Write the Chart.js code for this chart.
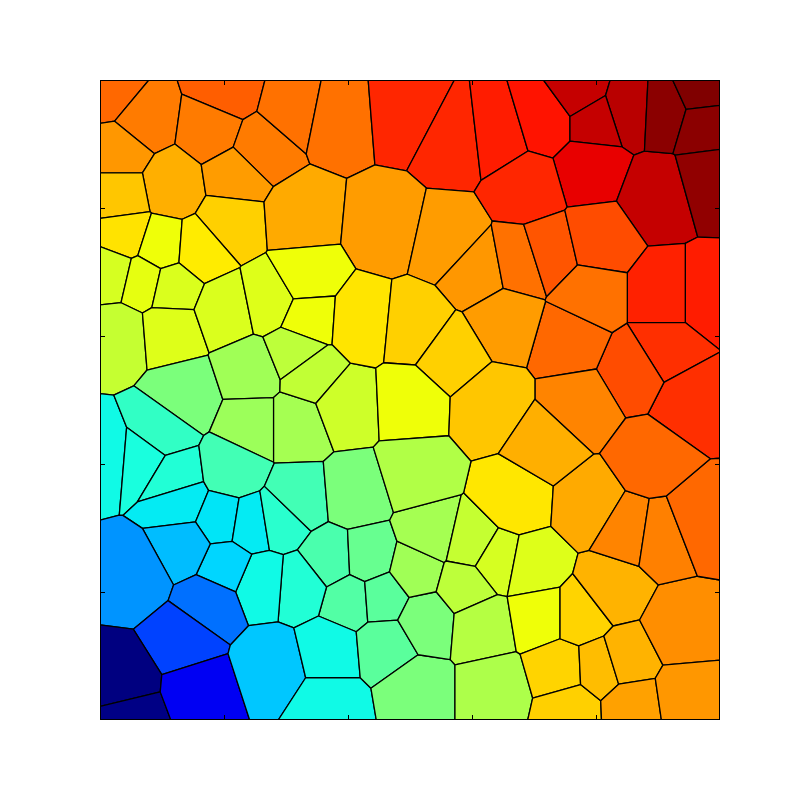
<!DOCTYPE html>
<html>
<head>
<meta charset="utf-8">
<script src="https://cdn.jsdelivr.net/npm/chart.js@4.4.0/dist/chart.umd.min.js"></script>
<style>
  html, body { margin: 0; padding: 0; background: #fff; }
  #wrap { width: 800px; height: 800px; }
</style>
</head>
<body>
<div id="wrap"><canvas id="chart" width="800" height="800"></canvas></div>
<script>
// Voronoi seeds (data units, 0..1) and the colour value of each cell
const seedX = [
    0.019, 0.069, 0.206, 0.181, 0.258, 0.310, 0.382, 0.492, 0.573, 0.640,
    0.718, 0.774, 0.852, 0.798, 0.790, 0.900, 0.911, 0.968, 0.973, 0.984,
    0.032, 0.116, 0.218, 0.032, 0.210, 0.323, 0.460, 0.561, 0.689, 0.610,
    0.677, 0.723, 0.803, 0.977, 0.911, 0.911, 0.952, 0.863, 0.758, 0.774,
    0.653, 0.040, 0.097, 0.161, 0.019, 0.069, 0.116, 0.029, 0.113, 0.202,
    0.274, 0.331, 0.335, 0.137, 0.242, 0.245, 0.315, 0.316, 0.340, 0.395,
    0.419, 0.508, 0.565, 0.500, 0.629, 0.010, 0.097, 0.068, 0.118, 0.129,
    0.213, 0.194, 0.242, 0.290, 0.319, 0.411, 0.371, 0.432, 0.403, 0.455,
    0.323, 0.261, 0.202, 0.137, 0.056, 0.177, 0.137, 0.035, 0.048, 0.161,
    0.277, 0.371, 0.371, 0.460, 0.508, 0.524, 0.508, 0.532, 0.600, 0.637,
    0.589, 0.616, 0.637, 0.669, 0.697, 0.710, 0.742, 0.758, 0.774, 0.823,
    0.806, 0.847, 0.858, 0.935, 0.944, 0.790, 0.852, 0.903, 0.963, 0.887,
    0.718, 0.508, 0.790
];
const seedY = [
    0.981, 0.938, 0.984, 0.922, 0.894, 0.956, 0.941, 0.950, 0.906, 0.914,
    0.938, 0.980, 0.956, 0.938, 0.863, 0.820, 0.953, 0.980, 0.934, 0.844,
    0.891, 0.836, 0.852, 0.819, 0.778, 0.786, 0.773, 0.750, 0.833, 0.703,
    0.716, 0.731, 0.750, 0.664, 0.664, 0.578, 0.500, 0.547, 0.594, 0.492,
    0.625, 0.758, 0.739, 0.734, 0.700, 0.688, 0.677, 0.602, 0.609, 0.641,
    0.656, 0.691, 0.628, 0.508, 0.544, 0.461, 0.461, 0.575, 0.541, 0.492,
    0.622, 0.613, 0.570, 0.497, 0.492, 0.414, 0.450, 0.409, 0.378, 0.341,
    0.391, 0.313, 0.305, 0.313, 0.344, 0.352, 0.250, 0.253, 0.188, 0.192,
    0.211, 0.216, 0.242, 0.273, 0.227, 0.183, 0.125, 0.059, 0.003, 0.047,
    0.086, 0.109, 0.023, 0.117, 0.047, 0.156, 0.234, 0.289, 0.273, 0.250,
    0.211, 0.148, 0.047, 0.344, 0.238, 0.164, 0.078, 0.019, 0.164, 0.203,
    0.081, 0.094, 0.023, 0.141, 0.036, 0.336, 0.297, 0.289, 0.313, 0.406,
    0.430, 0.383, 0.664
];
const cellValue = [
    0.80, 0.78, 0.81, 0.78, 0.78, 0.79, 0.79, 0.87, 0.87, 0.88,
    0.89, 0.94, 0.95, 0.94, 0.91, 0.94, 0.99, 1.00, 0.99, 0.985,
    0.75, 0.725, 0.745, 0.70, 0.69, 0.73, 0.745, 0.745, 0.87, 0.75,
    0.79, 0.82, 0.83, 0.88, 0.875, 0.86, 0.86, 0.83, 0.80, 0.77,
    0.745, 0.67, 0.64, 0.66, 0.61, 0.63, 0.615, 0.59, 0.62, 0.615,
    0.62, 0.64, 0.64, 0.50, 0.545, 0.54, 0.55, 0.58, 0.585, 0.60,
    0.667, 0.69, 0.69, 0.64, 0.70, 0.37, 0.41, 0.38, 0.39, 0.355,
    0.43, 0.35, 0.355, 0.40, 0.43, 0.50, 0.44, 0.475, 0.45, 0.46,
    0.39, 0.37, 0.335, 0.31, 0.27, 0.235, 0.19, 0.00, 0.005, 0.10,
    0.32, 0.37, 0.37, 0.46, 0.50, 0.50, 0.545, 0.55, 0.59, 0.61,
    0.58, 0.57, 0.56, 0.665, 0.62, 0.64, 0.685, 0.69, 0.685, 0.72,
    0.71, 0.72, 0.74, 0.76, 0.75, 0.73, 0.77, 0.775, 0.80, 0.80,
    0.725, 0.565, 0.79
];
const tickValues = [0.2, 0.4, 0.6, 0.8];

// matplotlib "jet" segments
const jetRed = [[0, 0], [0.35, 0], [0.66, 1], [0.89, 1], [1, 0.5]];
const jetGreen = [[0, 0], [0.125, 0], [0.375, 1], [0.64, 1], [0.91, 0], [1, 0]];
const jetBlue = [[0, 0.5], [0.11, 1], [0.34, 1], [0.65, 0], [1, 0]];

function segment(points, v) {
    for (let k = 1; k < points.length; k++) {
        if (v <= points[k][0]) {
            const [x0, y0] = points[k - 1], [x1, y1] = points[k];
            return y0 + (y1 - y0) * (v - x0) / (x1 - x0);
        }
    }
    return points[points.length - 1][1];
}

function jet(v) {
    const r = Math.round(255 * segment(jetRed, v));
    const g = Math.round(255 * segment(jetGreen, v));
    const b = Math.round(255 * segment(jetBlue, v));
    return `rgb(${r},${g},${b})`;
}

// keep the part of poly where a*x + b*y <= c
function clipPolygon(poly, a, b, c) {
    const out = [];
    for (let k = 0; k < poly.length; k++) {
        const p = poly[k], q = poly[(k + 1) % poly.length];
        const fp = a * p[0] + b * p[1] - c;
        const fq = a * q[0] + b * q[1] - c;
        if (fp <= 0) out.push(p);
        if ((fp < 0 && fq > 0) || (fp > 0 && fq < 0)) {
            const t = fp / (fp - fq);
            out.push([p[0] + t * (q[0] - p[0]), p[1] + t * (q[1] - p[1])]);
        }
    }
    return out;
}

function voronoiCells(xs, ys) {
    return xs.map((xi, i) => {
        const yi = ys[i];
        let poly = [[0, 0], [1, 0], [1, 1], [0, 1]];
        for (let j = 0; j < xs.length && poly.length; j++) {
            if (j === i) continue;
            const a = xs[j] - xi, b = ys[j] - yi;
            const c = (xs[j] * xs[j] + ys[j] * ys[j] - xi * xi - yi * yi) / 2;
            poly = clipPolygon(poly, a, b, c);
        }
        return poly;
    });
}

const cells = voronoiCells(seedX, seedY);

const voronoiPlugin = {
    id: 'voronoiCells',
    beforeDatasetsDraw(chart) {
        const { ctx, chartArea, scales } = chart;
        ctx.save();
        ctx.beginPath();
        ctx.rect(chartArea.left, chartArea.top, chartArea.right - chartArea.left, chartArea.bottom - chartArea.top);
        ctx.clip();
        ctx.lineJoin = 'round';
        cells.forEach((poly, i) => {
            if (poly.length < 3) return;
            ctx.beginPath();
            poly.forEach(([x, y], k) => {
                const px = scales.x.getPixelForValue(x);
                const py = scales.y.getPixelForValue(y);
                if (k === 0) ctx.moveTo(px, py); else ctx.lineTo(px, py);
            });
            ctx.closePath();
            ctx.fillStyle = jet(cellValue[i]);
            ctx.fill();
            ctx.strokeStyle = '#000';
            ctx.lineWidth = 1.3;
            ctx.stroke();
        });
        ctx.restore();
    },
    afterDraw(chart) {
        const { ctx, chartArea, scales } = chart;
        const { left, right, top, bottom } = chartArea;
        ctx.save();
        ctx.strokeStyle = '#000';
        ctx.lineWidth = 1;
        // inward tick marks on all four sides
        tickValues.forEach(t => {
            const px = Math.round(scales.x.getPixelForValue(t)) + 0.5;
            const py = Math.round(scales.y.getPixelForValue(t)) + 0.5;
            ctx.beginPath();
            ctx.moveTo(px, bottom); ctx.lineTo(px, bottom - 5);
            ctx.moveTo(px, top); ctx.lineTo(px, top + 5);
            ctx.moveTo(left, py); ctx.lineTo(left + 5, py);
            ctx.moveTo(right, py); ctx.lineTo(right - 5, py);
            ctx.stroke();
        });
        ctx.strokeRect(left + 0.5, top + 0.5, right - left - 1, bottom - top - 1);
        ctx.restore();
    }
};

new Chart(document.getElementById('chart').getContext('2d'), {
    type: 'scatter',
    data: {
        datasets: [{
            data: seedX.map((x, i) => ({ x: x, y: seedY[i] })),
            pointRadius: 0,
            pointHoverRadius: 0
        }]
    },
    options: {
        responsive: false,
        devicePixelRatio: 1,
        animation: false,
        layout: { padding: { left: 100, right: 80, top: 80, bottom: 80 } },
        scales: {
            x: { type: 'linear', min: 0, max: 1, display: false },
            y: { type: 'linear', min: 0, max: 1, display: false }
        },
        plugins: {
            legend: { display: false },
            tooltip: { enabled: false }
        }
    },
    plugins: [voronoiPlugin]
});
</script>
</body>
</html>
